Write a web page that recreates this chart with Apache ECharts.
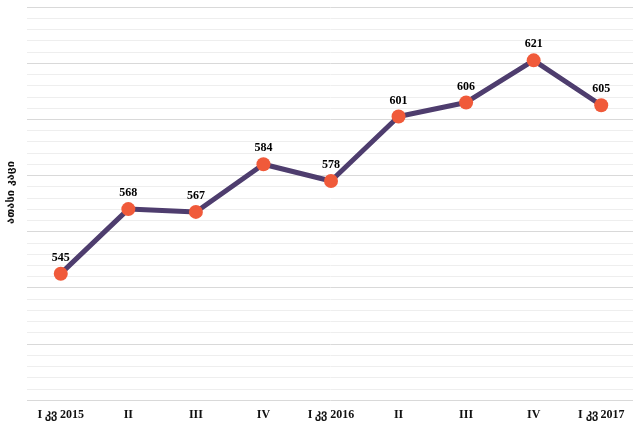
<!DOCTYPE html>
<html>
<head>
<meta charset="utf-8">
<script src="https://cdn.jsdelivr.net/npm/echarts@6/dist/echarts.min.js"></script>
<style>
html, body { margin: 0; padding: 0; background: #fff; }
#chart { width: 633px; height: 425px; }
</style>
</head>
<body>
<div id="chart"></div>
<script>
// კვარტლები
var categories = ['I კვ 2015', 'II', 'III', 'IV', 'I კვ 2016', 'II', 'III', 'IV', 'I კვ 2017'];
var values = [545, 568, 567, 584, 578, 601, 606, 621, 605];
var yName = 'ათასი კაცი';

var chart = echarts.init(document.getElementById('chart'));
var option = {
    animation: false,
    grid: {
        left: 27,
        right: -2,
        top: 7,
        bottom: 25,
        outerBoundsMode: 'none'
    },
    xAxis: {
        type: 'category',
        data: categories,
        boundaryGap: true,
        axisLine: { show: false },
        axisTick: { show: false },
        axisLabel: {
            margin: 9,
            color: '#111',
            fontSize: 12,
            fontWeight: 'bold',
            fontFamily: '"Liberation Serif", serif'
        }
    },
    yAxis: {
        type: 'value',
        min: 500,
        max: 640,
        interval: 20,
        name: yName,
        nameLocation: 'middle',
        nameGap: 10,
        nameRotate: 90,
        nameTextStyle: {
            color: '#111',
            fontSize: 11,
            fontWeight: 'bold',
            fontFamily: '"DejaVu Sans", sans-serif',
            padding: [0, 0, 0, 22]
        },
        axisLine: { show: false },
        axisTick: { show: false },
        axisLabel: { show: false },
        splitLine: { lineStyle: { color: '#d9d9d9', width: 1 } },
        minorTick: { show: false, splitNumber: 5 },
        minorSplitLine: { show: true, lineStyle: { color: '#eeeeee', width: 1 } }
    },
    series: [
        {
            type: 'line',
            data: values,
            symbol: 'circle',
            symbolSize: 14,
            lineStyle: { color: '#4e3d6e', width: 5 },
            itemStyle: { color: '#f05a3a' },
            label: {
                show: true,
                position: 'top',
                distance: 3,
                color: '#000',
                fontSize: 12,
                fontWeight: 'bold',
                fontFamily: '"Liberation Serif", serif'
            }
        }
    ]
};
chart.setOption(option);
</script>
</body>
</html>
